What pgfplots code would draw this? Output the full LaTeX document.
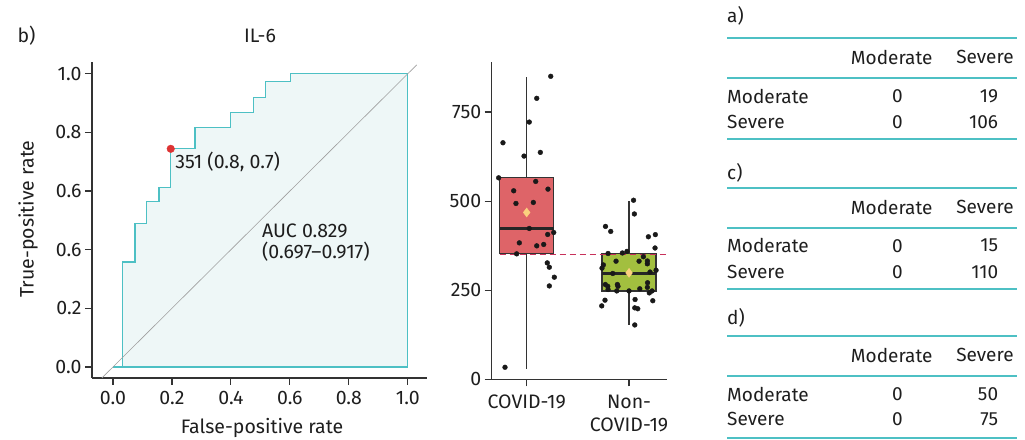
\documentclass[border=0pt]{standalone}
\usepackage{fontspec}
\setmainfont{Fira Sans}
\usepackage{pgfplots}
\usepackage{pgfplotstable}
\pgfplotsset{compat=1.18}
\usepgfplotslibrary{statistics}
\definecolor{tealc}{HTML}{4DC0C4}
\definecolor{fillc}{HTML}{EEF7F7}
\definecolor{dotred}{HTML}{DD3333}
\definecolor{boxred}{HTML}{DE6468}
\definecolor{boxgreen}{HTML}{A2BF3F}
\definecolor{meanc}{HTML}{FBD07E}
\definecolor{cutc}{HTML}{C8305A}
\definecolor{axc}{HTML}{333333}
\definecolor{txt}{HTML}{1E1E1E}
\newcommand\chartfont{\fontsize{19.5}{23.5}\selectfont}
\newcommand\tabfont{\fontsize{19}{22}\selectfont}
\pgfplotsset{myax/.style={scale only axis, axis x line=bottom, axis y line=left,
  axis line style={-, axc, line width=1.2pt}, tick align=outside, major tick length=7pt,
  tick style={axc, line width=1.2pt}, ticklabel style={font=\chartfont, text=txt}, clip=false}}
\pgfplotstableread{
x y
0.768 663.8
1.235 850.3
1.098 788.5
1.025 721.9
1.133 636.8
0.974 626.4
0.726 565.4
1.088 555.3
0.873 529.0
1.208 533.7
0.895 493.5
1.065 496.3
1.025 423.3
1.205 406.5
1.264 412.0
0.928 382.9
1.098 374.5
1.166 378.4
0.902 352.0
1.201 326.7
1.221 314.6
1.270 286.5
1.221 262.0
0.788 33.7
}\covid
\pgfplotstableread{
x y
2.044 502.5
2.052 464
1.770 429
1.821 415
2.189 400
2.257 406
2.254 368.5
1.795 353
1.935 354.5
1.980 359
1.873 331.5
2.098 331.5
2.140 344
2.179 332
2.179 324
1.749 321
1.736 312
2.264 306
1.841 297
2.205 301
2.181 271
1.768 266
1.792 261
1.795 252
1.886 266
1.892 261
1.880 248
2.000 248
2.105 254
2.179 258
2.198 242.5
2.225 248
1.765 222
1.733 206
2.059 224
2.232 220.5
2.056 200.5
2.085 198
2.056 152.5
}\noncovid
\begin{document}
\begin{tikzpicture}
\useasboundingbox (0,0) rectangle (1025pt,439pt);
% ROC
\begin{axis}[myax, at={(92pt,61pt)}, anchor=south west, width=335pt, height=316pt,
  xmin=-0.071, xmax=1.065, ymin=-0.0375, ymax=1.04,
  xtick={0,0.2,0.4,0.6,0.8,1}, xticklabels={0.0,0.2,0.4,0.6,\raisebox{-3pt}{0.8},\raisebox{-3pt}{1.0}},
  xticklabel style={yshift=-3pt},
  ytick={0,0.2,0.4,0.6,0.8,1}, yticklabels={0.0,0.2,0.6,0.6,0.8,1.0}]
\addplot[draw=tealc, fill=fillc, line width=1.2pt] coordinates {
(0,0) (0.033,0) (0.033,0.358) (0.075,0.358) (0.075,0.488) (0.114,0.488) (0.114,0.563)
(0.156,0.563) (0.156,0.613) (0.196,0.613) (0.196,0.744) (0.278,0.744) (0.278,0.818)
(0.4,0.818) (0.4,0.867) (0.477,0.867) (0.477,0.919) (0.518,0.919) (0.518,0.974)
(0.601,0.974) (0.601,1) (1,1) (1,0) (0,0)};
\addplot[gray!75, line width=0.6pt] coordinates {(-0.0375,-0.0375) (1.03,1.03)};
\addplot[only marks, mark=*, mark size=3.8pt, dotred] coordinates {(0.196,0.744)};
\node[anchor=west, inner sep=0pt, font=\chartfont, text=txt] at (axis cs:0.211,0.70) {351 (0.8, 0.7)};
\node[anchor=west, inner sep=0pt, font=\chartfont, text=txt] at (axis cs:0.505,0.465) {AUC 0.829};
\node[anchor=west, inner sep=0pt, font=\chartfont, text=txt] at (axis cs:0.505,0.392) {(0.697–0.917)};
\end{axis}
% Box plot
\begin{axis}[myax, at={(491.7pt,59.7pt)}, anchor=south west, width=175pt, height=317pt,
  xmin=0.658, xmax=2.368, ymin=0, ymax=889.6,
  xtick={1,2}, xticklabels={COVID-19,{Non-\\COVID-19}}, xticklabel style={align=center, yshift=-5pt},
  ytick={0,250,500,750}, yticklabels={0,250,500,750}, boxplot/draw direction=y]
\addplot[boxplot prepared={lower whisker=30, lower quartile=353, median=423.3,
  upper quartile=566.6, upper whisker=847.5, draw position=1, box extend=0.528, whisker extend=0},
  draw=axc, fill=boxred, line width=1.3pt] coordinates {};
\addplot[boxplot prepared={lower whisker=151.7, lower quartile=248, median=297,
  upper quartile=353, upper whisker=499, draw position=2, box extend=0.528, whisker extend=0},
  draw=axc, fill=boxgreen, line width=1.3pt] coordinates {};
\addplot[black!85, line width=2.2pt] coordinates {(0.736,423.3) (1.264,423.3)};
\addplot[black!85, line width=2.2pt] coordinates {(1.736,297) (2.264,297)};
\addplot[cutc, line width=1pt, dash pattern=on 6pt off 4pt] coordinates {(0.736,351) (2.368,351)};
\addplot[only marks, mark=diamond*, mark size=4.5pt, meanc] coordinates {(1,468.2) (2,298.6)};
\addplot[only marks, mark=*, mark size=2.4pt, black!90] table[x=x,y=y] {\covid};
\addplot[only marks, mark=*, mark size=2.4pt, black!90] table[x=x,y=y] {\noncovid};
\end{axis}
\begin{scope}[x=1pt,y=-1pt,yshift=439pt]
\node[font=\chartfont, text=txt, anchor=west, inner sep=0pt] at (17.3,36) {b)};
\node[font=\chartfont, text=txt] at (260,36) {IL-6};
\node[font=\chartfont, text=txt] at (262,428) {False-positive rate};
\node[font=\chartfont, text=txt, rotate=90] at (28,219) {True-positive rate};
% tables
\foreach \yy in {38,78,139,188,228,289,336,376,438}
  \draw[tealc, line width=1.5pt] (727,\yy) -- (1017,\yy);
\tikzset{tl/.style={font=\tabfont, text=txt, inner sep=0pt}}
\node[tl, anchor=west] at (727,15.7) {a)};
\node[tl] at (891.7,57.3) {Moderate};
\node[tl] at (985,57.3) {Severe};
\node[tl, anchor=west] at (727,96) {Moderate};
\node[tl, anchor=west] at (727,121.7) {Severe};
\node[tl] at (897.3,96) {0};
\node[tl] at (897.3,121.7) {0};
\node[tl, anchor=east] at (998.3,96) {19};
\node[tl, anchor=east] at (998.3,121.7) {106};
\node[tl, anchor=west] at (727,173.3) {c)};
\node[tl] at (891.7,207.3) {Moderate};
\node[tl] at (985,207.3) {Severe};
\node[tl, anchor=west] at (727,245.7) {Moderate};
\node[tl, anchor=west] at (727,272.3) {Severe};
\node[tl] at (897.3,245.7) {0};
\node[tl] at (897.3,272.3) {0};
\node[tl, anchor=east] at (998.3,245.7) {15};
\node[tl, anchor=east] at (998.3,272.3) {110};
\node[tl, anchor=west] at (727,318.3) {d)};
\node[tl] at (891.7,355) {Moderate};
\node[tl] at (985,355) {Severe};
\node[tl, anchor=west] at (727,394) {Moderate};
\node[tl, anchor=west] at (727,419.3) {Severe};
\node[tl] at (897.3,394) {0};
\node[tl] at (897.3,419.3) {0};
\node[tl, anchor=east] at (998.3,394) {50};
\node[tl, anchor=east] at (998.3,419.3) {75};
\end{scope}
\end{tikzpicture}
\end{document}
